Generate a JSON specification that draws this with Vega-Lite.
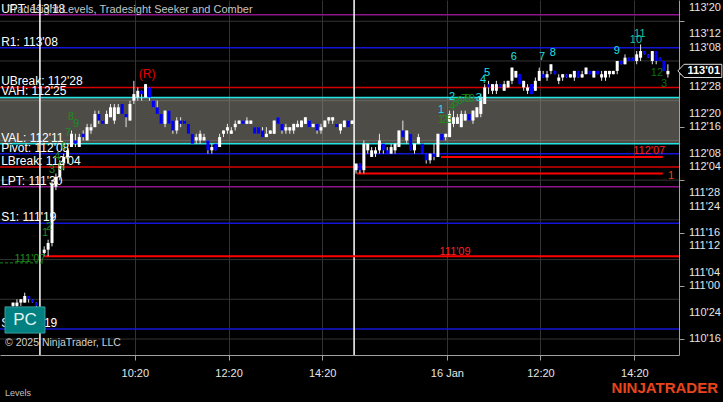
{
  "$schema": "https://vega.github.io/schema/vega-lite/v6.json",
  "autosize": {"type": "none"},
  "width": 679,
  "height": 355,
  "padding": {"left": 0, "top": 0, "right": 44, "bottom": 47},
  "background": "#000000",
  "config": {"view": {"stroke": null}, "font": "Liberation Sans", "scale": {"continuousPadding": 0}, "axis": {"labelOverlap": false}},
  "resolve": {"scale": {"color": "independent"}},
  "datasets": {
    "hgrid": [{"v": 3536}, {"v": 3548}, {"v": 3560}, {"v": 3572}, {"v": 3584}, {"v": 3596}, {"v": 3608}, {"v": 3620}, {"v": 3632}],
    "ylabels": [
      {"v": 3536, "t": "110'16"}, {"v": 3544, "t": "110'24"}, {"v": 3552, "t": "111'00"}, {"v": 3556, "t": "111'04"},
      {"v": 3564, "t": "111'12"}, {"v": 3568, "t": "111'16"}, {"v": 3576, "t": "111'24"}, {"v": 3580, "t": "111'28"},
      {"v": 3588, "t": "112'04"}, {"v": 3592, "t": "112'08"}, {"v": 3600, "t": "112'16"}, {"v": 3604, "t": "112'20"},
      {"v": 3612, "t": "112'28"}, {"v": 3624, "t": "113'08"}, {"v": 3628, "t": "113'12"}, {"v": 3636, "t": "113'20"}
    ],
    "band": [{"v": 3609, "v2": 3595}],
    "levels": [
      {"v": 3634, "kind": "pt", "label": "UPT: 113'18"},
      {"v": 3624, "kind": "rs", "label": "R1: 113'08"},
      {"v": 3612, "kind": "brk", "label": "UBreak: 112'28"},
      {"v": 3609, "kind": "va", "label": "VAH: 112'25"},
      {"v": 3595, "kind": "va", "label": "VAL: 112'11"},
      {"v": 3592, "kind": "rs", "label": "Pivot: 112'08"},
      {"v": 3588, "kind": "brk", "label": "LBreak: 112'04"},
      {"v": 3582, "kind": "pt", "label": "LPT: 111'30"},
      {"v": 3571, "kind": "rs", "label": "S1: 111'19"},
      {"v": 3539, "kind": "rs", "label": "S2: 110'19"}
    ],
    "sessions": [{"j": 9.9}, {"j": 90.5}],
    "segs": [
      {"j": 11, "j2": 173.85, "v": 3561},
      {"j": 112.8, "j2": 169.7, "v": 3591},
      {"j": 91.2, "j2": 169.7, "v": 3586}
    ],
    "gdash": [{"j": -0.34, "j2": 11, "v": 3559}],
    "seglabels": [
      {"j": 116.4, "v": 3562.2, "t": "111'09", "k": "r"},
      {"j": 166.2, "v": 3592.9, "t": "112'07", "k": "r"},
      {"j": 171.8, "v": 3585.2, "t": "1", "k": "o"},
      {"j": 7.35, "v": 3560.2, "t": "111'07", "k": "g"}
    ],
    "counts": [
      {"j": 11.2, "v": 3568.0, "t": "1", "k": "g"},
      {"j": 12.2, "v": 3569.8, "t": "2", "k": "g"},
      {"j": 13.0, "v": 3587.1, "t": "3", "k": "g"},
      {"j": 14.3, "v": 3591.0, "t": "4", "k": "g"},
      {"j": 15.3, "v": 3588.0, "t": "5", "k": "g"},
      {"j": 16.1, "v": 3594.0, "t": "6", "k": "g"},
      {"j": 17.1, "v": 3598.2, "t": "7", "k": "g"},
      {"j": 17.9, "v": 3603.1, "t": "8", "k": "g"},
      {"j": 19.2, "v": 3601.0, "t": "9", "k": "g"},
      {"j": 112.8, "v": 3602.2, "t": "1", "k": "g"},
      {"j": 113.8, "v": 3602.2, "t": "2", "k": "g"},
      {"j": 114.9, "v": 3602.2, "t": "3", "k": "g"},
      {"j": 115.6, "v": 3606.1, "t": "4", "k": "g"},
      {"j": 116.6, "v": 3607.3, "t": "5", "k": "g"},
      {"j": 117.7, "v": 3607.9, "t": "6", "k": "g"},
      {"j": 118.7, "v": 3608.5, "t": "7", "k": "g"},
      {"j": 119.7, "v": 3608.5, "t": "8", "k": "g"},
      {"j": 120.7, "v": 3608.5, "t": "9", "k": "g"},
      {"j": 168.2, "v": 3616.4, "t": "12", "k": "d"},
      {"j": 170.0, "v": 3613.0, "t": "3", "k": "d"},
      {"j": 112.8, "v": 3605.2, "t": "1", "k": "c"},
      {"j": 115.6, "v": 3609.1, "t": "2", "k": "c"},
      {"j": 122.5, "v": 3608.8, "t": "3", "k": "c"},
      {"j": 123.6, "v": 3614.3, "t": "4", "k": "c"},
      {"j": 124.6, "v": 3616.4, "t": "5", "k": "c"},
      {"j": 131.5, "v": 3621.2, "t": "6", "k": "c"},
      {"j": 138.7, "v": 3621.2, "t": "7", "k": "c"},
      {"j": 141.5, "v": 3622.4, "t": "8", "k": "c"},
      {"j": 157.9, "v": 3623.0, "t": "9", "k": "c"},
      {"j": 162.8, "v": 3626.3, "t": "10", "k": "t"},
      {"j": 163.8, "v": 3628.1, "t": "11", "k": "t"}
    ],
    "bars": [
      {"j": 3, "o": 3546, "h": 3547, "l": 3545, "c": 3547},
      {"j": 4, "o": 3546, "h": 3548, "l": 3545, "c": 3547},
      {"j": 5, "o": 3547, "h": 3548, "l": 3546, "c": 3548},
      {"j": 6, "o": 3547, "h": 3550, "l": 3547, "c": 3549},
      {"j": 7, "o": 3549, "h": 3549, "l": 3547, "c": 3548},
      {"j": 8, "o": 3548, "h": 3548, "l": 3547, "c": 3547},
      {"j": 9, "o": 3547, "h": 3547, "l": 3545, "c": 3546},
      {"j": 11, "o": 3562, "h": 3564, "l": 3561, "c": 3563},
      {"j": 12, "o": 3563, "h": 3566, "l": 3561, "c": 3565},
      {"j": 13, "o": 3565, "h": 3584, "l": 3564, "c": 3583},
      {"j": 14, "o": 3582, "h": 3586, "l": 3581, "c": 3585},
      {"j": 15, "o": 3585, "h": 3590, "l": 3584, "c": 3589},
      {"j": 16, "o": 3589, "h": 3592, "l": 3587, "c": 3591},
      {"j": 17, "o": 3591, "h": 3594, "l": 3589, "c": 3593},
      {"j": 18, "o": 3594, "h": 3599, "l": 3594, "c": 3598},
      {"j": 19, "o": 3596, "h": 3598, "l": 3594, "c": 3595},
      {"j": 20, "o": 3594, "h": 3598, "l": 3594, "c": 3597},
      {"j": 21, "o": 3598, "h": 3599, "l": 3596, "c": 3597},
      {"j": 22, "o": 3596, "h": 3601, "l": 3596, "c": 3600},
      {"j": 23, "o": 3599, "h": 3601, "l": 3598, "c": 3600},
      {"j": 24, "o": 3600, "h": 3605, "l": 3600, "c": 3604},
      {"j": 25, "o": 3604, "h": 3605, "l": 3601, "c": 3602},
      {"j": 26, "o": 3602, "h": 3602, "l": 3601, "c": 3601},
      {"j": 27, "o": 3601, "h": 3605, "l": 3601, "c": 3604},
      {"j": 28, "o": 3603, "h": 3607, "l": 3603, "c": 3606},
      {"j": 29, "o": 3602, "h": 3607, "l": 3601, "c": 3606},
      {"j": 30, "o": 3604, "h": 3607, "l": 3604, "c": 3606},
      {"j": 31, "o": 3607, "h": 3607, "l": 3604, "c": 3604},
      {"j": 32, "o": 3604, "h": 3604, "l": 3600, "c": 3603},
      {"j": 33, "o": 3602, "h": 3608, "l": 3602, "c": 3607},
      {"j": 34, "o": 3608, "h": 3614, "l": 3607, "c": 3610},
      {"j": 35, "o": 3609, "h": 3612, "l": 3608, "c": 3611},
      {"j": 36, "o": 3611, "h": 3611, "l": 3608, "c": 3610},
      {"j": 37, "o": 3609, "h": 3613, "l": 3609, "c": 3613},
      {"j": 38, "o": 3612, "h": 3612, "l": 3608, "c": 3609},
      {"j": 39, "o": 3608, "h": 3608, "l": 3606, "c": 3606},
      {"j": 40, "o": 3606, "h": 3608, "l": 3604, "c": 3604},
      {"j": 41, "o": 3604, "h": 3604, "l": 3601, "c": 3601},
      {"j": 42, "o": 3601, "h": 3605, "l": 3600, "c": 3605},
      {"j": 43, "o": 3605, "h": 3605, "l": 3601, "c": 3601},
      {"j": 44, "o": 3602, "h": 3602, "l": 3598, "c": 3599},
      {"j": 45, "o": 3599, "h": 3603, "l": 3598, "c": 3602},
      {"j": 46, "o": 3602, "h": 3603, "l": 3600, "c": 3601},
      {"j": 47, "o": 3602, "h": 3602, "l": 3601, "c": 3601},
      {"j": 48, "o": 3601, "h": 3601, "l": 3598, "c": 3598},
      {"j": 49, "o": 3598, "h": 3598, "l": 3595, "c": 3595},
      {"j": 50, "o": 3596, "h": 3598, "l": 3595, "c": 3597},
      {"j": 51, "o": 3596, "h": 3599, "l": 3595, "c": 3598},
      {"j": 52, "o": 3596, "h": 3598, "l": 3596, "c": 3597},
      {"j": 53, "o": 3596, "h": 3596, "l": 3592, "c": 3593},
      {"j": 54, "o": 3593, "h": 3595, "l": 3592, "c": 3594},
      {"j": 55, "o": 3595, "h": 3595, "l": 3593, "c": 3593},
      {"j": 56, "o": 3594, "h": 3598, "l": 3594, "c": 3597},
      {"j": 57, "o": 3598, "h": 3599, "l": 3597, "c": 3599},
      {"j": 58, "o": 3599, "h": 3601, "l": 3598, "c": 3600},
      {"j": 59, "o": 3598, "h": 3600, "l": 3598, "c": 3599},
      {"j": 60, "o": 3600, "h": 3602, "l": 3599, "c": 3601},
      {"j": 61, "o": 3601, "h": 3602, "l": 3601, "c": 3602},
      {"j": 62, "o": 3602, "h": 3602, "l": 3601, "c": 3601},
      {"j": 63, "o": 3601, "h": 3603, "l": 3601, "c": 3602},
      {"j": 64, "o": 3601, "h": 3602, "l": 3601, "c": 3602},
      {"j": 65, "o": 3600, "h": 3600, "l": 3598, "c": 3598},
      {"j": 66, "o": 3600, "h": 3600, "l": 3598, "c": 3598},
      {"j": 67, "o": 3599, "h": 3600, "l": 3597, "c": 3597},
      {"j": 68, "o": 3597, "h": 3600, "l": 3597, "c": 3598},
      {"j": 69, "o": 3598, "h": 3599, "l": 3598, "c": 3599},
      {"j": 70, "o": 3598, "h": 3602, "l": 3598, "c": 3602},
      {"j": 71, "o": 3603, "h": 3603, "l": 3601, "c": 3601},
      {"j": 72, "o": 3601, "h": 3601, "l": 3598, "c": 3599},
      {"j": 73, "o": 3599, "h": 3601, "l": 3598, "c": 3600},
      {"j": 74, "o": 3599, "h": 3600, "l": 3598, "c": 3600},
      {"j": 75, "o": 3599, "h": 3601, "l": 3598, "c": 3601},
      {"j": 76, "o": 3600, "h": 3602, "l": 3600, "c": 3601},
      {"j": 77, "o": 3600, "h": 3602, "l": 3600, "c": 3602},
      {"j": 78, "o": 3601, "h": 3603, "l": 3601, "c": 3603},
      {"j": 79, "o": 3602, "h": 3602, "l": 3600, "c": 3600},
      {"j": 80, "o": 3600, "h": 3601, "l": 3600, "c": 3601},
      {"j": 81, "o": 3601, "h": 3601, "l": 3598, "c": 3599},
      {"j": 82, "o": 3599, "h": 3601, "l": 3598, "c": 3600},
      {"j": 83, "o": 3600, "h": 3602, "l": 3600, "c": 3602},
      {"j": 84, "o": 3602, "h": 3603, "l": 3601, "c": 3603},
      {"j": 85, "o": 3602, "h": 3603, "l": 3601, "c": 3603},
      {"j": 86, "o": 3601, "h": 3601, "l": 3600, "c": 3600},
      {"j": 87, "o": 3599, "h": 3601, "l": 3598, "c": 3601},
      {"j": 88, "o": 3600, "h": 3602, "l": 3600, "c": 3602},
      {"j": 89, "o": 3602, "h": 3602, "l": 3600, "c": 3600},
      {"j": 90, "o": 3601, "h": 3602, "l": 3601, "c": 3602},
      {"j": 91, "o": 3587, "h": 3589, "l": 3586, "c": 3589},
      {"j": 92, "o": 3589, "h": 3589, "l": 3586, "c": 3587},
      {"j": 93, "o": 3587, "h": 3596, "l": 3586, "c": 3595},
      {"j": 94, "o": 3593, "h": 3595, "l": 3592, "c": 3595},
      {"j": 95, "o": 3591, "h": 3594, "l": 3591, "c": 3593},
      {"j": 96, "o": 3592, "h": 3594, "l": 3591, "c": 3593},
      {"j": 97, "o": 3593, "h": 3598, "l": 3592, "c": 3596},
      {"j": 98, "o": 3595, "h": 3595, "l": 3592, "c": 3593},
      {"j": 99, "o": 3593, "h": 3594, "l": 3592, "c": 3592},
      {"j": 100, "o": 3592, "h": 3595, "l": 3592, "c": 3594},
      {"j": 101, "o": 3593, "h": 3595, "l": 3592, "c": 3595},
      {"j": 102, "o": 3594, "h": 3599, "l": 3594, "c": 3599},
      {"j": 103, "o": 3599, "h": 3602, "l": 3597, "c": 3597},
      {"j": 104, "o": 3596, "h": 3599, "l": 3595, "c": 3599},
      {"j": 105, "o": 3598, "h": 3598, "l": 3593, "c": 3593},
      {"j": 106, "o": 3593, "h": 3595, "l": 3592, "c": 3595},
      {"j": 107, "o": 3595, "h": 3598, "l": 3595, "c": 3597},
      {"j": 108, "o": 3595, "h": 3595, "l": 3592, "c": 3592},
      {"j": 109, "o": 3592, "h": 3592, "l": 3589, "c": 3590},
      {"j": 110, "o": 3590, "h": 3592, "l": 3589, "c": 3592},
      {"j": 111, "o": 3592, "h": 3595, "l": 3590, "c": 3591},
      {"j": 112, "o": 3591, "h": 3598, "l": 3591, "c": 3598},
      {"j": 113, "o": 3598, "h": 3598, "l": 3596, "c": 3596},
      {"j": 114, "o": 3597, "h": 3598, "l": 3596, "c": 3598},
      {"j": 115, "o": 3597, "h": 3605, "l": 3597, "c": 3604},
      {"j": 116, "o": 3601, "h": 3605, "l": 3600, "c": 3603},
      {"j": 117, "o": 3601, "h": 3604, "l": 3601, "c": 3603},
      {"j": 118, "o": 3600, "h": 3605, "l": 3600, "c": 3604},
      {"j": 119, "o": 3602, "h": 3605, "l": 3602, "c": 3604},
      {"j": 120, "o": 3604, "h": 3604, "l": 3602, "c": 3602},
      {"j": 121, "o": 3602, "h": 3605, "l": 3601, "c": 3605},
      {"j": 122, "o": 3603, "h": 3606, "l": 3603, "c": 3606},
      {"j": 123, "o": 3604, "h": 3610, "l": 3603, "c": 3609},
      {"j": 124, "o": 3607, "h": 3613, "l": 3607, "c": 3612},
      {"j": 125, "o": 3613, "h": 3614, "l": 3610, "c": 3612},
      {"j": 126, "o": 3611, "h": 3613, "l": 3610, "c": 3613},
      {"j": 127, "o": 3611, "h": 3614, "l": 3610, "c": 3613},
      {"j": 128, "o": 3613, "h": 3613, "l": 3612, "c": 3612},
      {"j": 129, "o": 3611, "h": 3614, "l": 3611, "c": 3613},
      {"j": 130, "o": 3612, "h": 3614, "l": 3612, "c": 3614},
      {"j": 131, "o": 3614, "h": 3618, "l": 3613, "c": 3618},
      {"j": 132, "o": 3615, "h": 3617, "l": 3615, "c": 3617},
      {"j": 133, "o": 3616, "h": 3616, "l": 3613, "c": 3613},
      {"j": 134, "o": 3612, "h": 3614, "l": 3611, "c": 3614},
      {"j": 135, "o": 3611, "h": 3613, "l": 3610, "c": 3612},
      {"j": 136, "o": 3613, "h": 3613, "l": 3610, "c": 3610},
      {"j": 137, "o": 3611, "h": 3615, "l": 3611, "c": 3614},
      {"j": 138, "o": 3614, "h": 3618, "l": 3614, "c": 3617},
      {"j": 139, "o": 3616, "h": 3617, "l": 3615, "c": 3615},
      {"j": 140, "o": 3615, "h": 3617, "l": 3614, "c": 3616},
      {"j": 141, "o": 3617, "h": 3619, "l": 3616, "c": 3619},
      {"j": 142, "o": 3617, "h": 3617, "l": 3616, "c": 3616},
      {"j": 143, "o": 3614, "h": 3616, "l": 3613, "c": 3615},
      {"j": 144, "o": 3615, "h": 3616, "l": 3614, "c": 3616},
      {"j": 145, "o": 3616, "h": 3616, "l": 3615, "c": 3615},
      {"j": 146, "o": 3615, "h": 3616, "l": 3615, "c": 3616},
      {"j": 147, "o": 3615, "h": 3617, "l": 3614, "c": 3617},
      {"j": 148, "o": 3617, "h": 3617, "l": 3615, "c": 3615},
      {"j": 149, "o": 3615, "h": 3617, "l": 3615, "c": 3616},
      {"j": 150, "o": 3616, "h": 3618, "l": 3616, "c": 3618},
      {"j": 151, "o": 3617, "h": 3617, "l": 3616, "c": 3616},
      {"j": 152, "o": 3615, "h": 3617, "l": 3615, "c": 3617},
      {"j": 153, "o": 3617, "h": 3617, "l": 3616, "c": 3616},
      {"j": 154, "o": 3615, "h": 3617, "l": 3614, "c": 3616},
      {"j": 155, "o": 3615, "h": 3617, "l": 3614, "c": 3617},
      {"j": 156, "o": 3616, "h": 3617, "l": 3615, "c": 3617},
      {"j": 157, "o": 3616, "h": 3617, "l": 3616, "c": 3617},
      {"j": 158, "o": 3617, "h": 3620, "l": 3616, "c": 3620},
      {"j": 159, "o": 3620, "h": 3620, "l": 3619, "c": 3619},
      {"j": 160, "o": 3619, "h": 3622, "l": 3619, "c": 3621},
      {"j": 161, "o": 3621, "h": 3621, "l": 3620, "c": 3620},
      {"j": 162, "o": 3621, "h": 3621, "l": 3620, "c": 3620},
      {"j": 163, "o": 3620, "h": 3623, "l": 3619, "c": 3622},
      {"j": 164, "o": 3621, "h": 3625, "l": 3620, "c": 3623},
      {"j": 165, "o": 3623, "h": 3623, "l": 3622, "c": 3622},
      {"j": 166, "o": 3622, "h": 3622, "l": 3621, "c": 3621},
      {"j": 167, "o": 3620, "h": 3623, "l": 3619, "c": 3623},
      {"j": 168, "o": 3623, "h": 3623, "l": 3619, "c": 3620},
      {"j": 169, "o": 3621, "h": 3621, "l": 3620, "c": 3620},
      {"j": 170, "o": 3620, "h": 3620, "l": 3617, "c": 3617},
      {"j": 171, "o": 3616, "h": 3619, "l": 3615, "c": 3617}
    ]
  },
  "layer": [
    {
      "data": {"name": "hgrid"},
      "mark": {"type": "rule", "color": "#333333", "strokeWidth": 1},
      "encoding": {"y": {"field": "v", "type": "quantitative", "title": null}}
    },
    {
      "data": {"name": "band"},
      "mark": {"type": "rect", "color": "#9a978c", "opacity": 0.5},
      "encoding": {
        "y": {"field": "v", "type": "quantitative", "title": null},
        "y2": {"field": "v2"}
      }
    },
    {
      "data": {"name": "levels"},
      "mark": {"type": "rule", "strokeWidth": 1.5},
      "encoding": {
        "y": {"field": "v", "type": "quantitative", "title": null},
        "color": {"field": "kind", "type": "nominal", "legend": null,
          "scale": {"domain": ["pt", "rs", "brk", "va"], "range": ["#8a168a", "#1414d8", "#d40000", "#22e6e6"]}}
      }
    },
    {
      "data": {"name": "sessions"},
      "mark": {"type": "rule", "color": "#ffffff", "strokeWidth": 1.5},
      "encoding": {"x": {"field": "j", "type": "quantitative", "title": null}}
    },
    {
      "data": {"name": "segs"},
      "mark": {"type": "rule", "color": "#ff0000", "strokeWidth": 2},
      "encoding": {
        "x": {"field": "j", "type": "quantitative", "title": null},
        "x2": {"field": "j2"},
        "y": {"field": "v", "type": "quantitative", "title": null}
      }
    },
    {
      "data": {"name": "gdash"},
      "mark": {"type": "rule", "color": "#1a8a1a", "strokeWidth": 1, "strokeDash": [3, 2]},
      "encoding": {
        "x": {"field": "j", "type": "quantitative", "title": null},
        "x2": {"field": "j2"},
        "y": {"field": "v", "type": "quantitative", "title": null}
      }
    },
    {
      "data": {"name": "bars"},
      "mark": {"type": "rule", "color": "#e8e8e8", "strokeWidth": 1},
      "encoding": {
        "x": {"field": "j", "type": "quantitative", "title": null,
          "scale": {"domain": [-0.344, 173.85], "nice": false, "zero": false, "padding": 0},
          "axis": {"orient": "bottom", "title": null, "values": [34.25, 58.3, 82.3, 114.3, 138.3, 162.4],
            "labelExpr": "datum.value < 40 ? '10:20' : datum.value < 70 ? '12:20' : datum.value < 100 ? '14:20' : datum.value < 120 ? '16 Jan' : datum.value < 150 ? '12:20' : '14:20'",
            "grid": true, "gridColor": "#333333", "domain": true, "domainColor": "#a0a0a0", "tickColor": "#a0a0a0", "tickSize": 5,
            "labelColor": "#e6e6e6", "labelFontSize": 11, "labelFont": "Liberation Sans", "labelPadding": 7, "labelFlush": false, "labelOverlap": false}},
        "y": {"field": "l", "type": "quantitative", "title": null,
          "scale": {"domain": [3531.17, 3638.42], "nice": false, "zero": false, "padding": 0},
          "axis": {"orient": "right", "title": null,
            "values": [3536, 3540, 3544, 3548, 3552, 3556, 3560, 3564, 3568, 3572, 3576, 3580, 3584, 3588, 3592, 3596, 3600, 3604, 3608, 3612, 3616, 3620, 3624, 3628, 3632, 3636],
            "labels": false,
            "grid": false, "domain": true, "domainColor": "#a0a0a0", "tickColor": "#a0a0a0", "tickSize": 5}},
        "y2": {"field": "h"}
      }
    },
    {
      "data": {"name": "bars"},
      "mark": {"type": "bar", "size": 3},
      "encoding": {
        "x": {"field": "j", "type": "quantitative", "title": null},
        "y": {"field": "o", "type": "quantitative", "title": null},
        "y2": {"field": "c"},
        "color": {"condition": {"test": "datum.c >= datum.o", "value": "#ffffff"}, "value": "#0000ff"}
      }
    },
    {
      "data": {"name": "ylabels"},
      "mark": {"type": "text", "align": "left", "baseline": "middle", "fontSize": 11, "color": "#e6e6e6"},
      "encoding": {
        "x": {"datum": 176.42, "type": "quantitative", "title": null},
        "y": {"field": "v", "type": "quantitative", "title": null},
        "text": {"field": "t"}
      }
    },
    {
      "data": {"name": "levels"},
      "mark": {"type": "text", "align": "left", "baseline": "alphabetic", "dx": 1, "dy": -2, "fontSize": 12, "color": "#ffffff"},
      "encoding": {
        "x": {"datum": -0.3, "type": "quantitative", "title": null},
        "y": {"field": "v", "type": "quantitative", "title": null},
        "text": {"field": "label"}
      }
    },
    {
      "data": {"name": "counts"},
      "mark": {"type": "text", "align": "center", "baseline": "middle", "fontSize": 11},
      "encoding": {
        "x": {"field": "j", "type": "quantitative", "title": null},
        "y": {"field": "v", "type": "quantitative", "title": null},
        "text": {"field": "t"},
        "color": {"field": "k", "type": "nominal", "legend": null,
          "scale": {"domain": ["g", "d", "c", "t"], "range": ["#1c8c1c", "#0b700b", "#20e0ea", "#17c49c"]}}
      }
    },
    {
      "data": {"name": "seglabels"},
      "mark": {"type": "text", "align": "center", "baseline": "middle", "fontSize": 11},
      "encoding": {
        "x": {"field": "j", "type": "quantitative", "title": null},
        "y": {"field": "v", "type": "quantitative", "title": null},
        "text": {"field": "t"},
        "color": {"field": "k", "type": "nominal", "legend": null,
          "scale": {"domain": ["r", "o", "g"], "range": ["#ff2020", "#ff3a10", "#1c8c1c"]}}
      }
    },
    {
      "data": {"values": [{"t": "(R)"}]},
      "mark": {"type": "text", "align": "center", "baseline": "middle", "fontSize": 12, "color": "#e00000"},
      "encoding": {
        "x": {"datum": 37.4, "type": "quantitative", "title": null},
        "y": {"datum": 3616.1, "type": "quantitative", "title": null},
        "text": {"field": "t"}
      }
    },
    {
      "data": {"values": [{"t": "PC"}]},
      "mark": {"type": "rect", "fill": "#008080", "stroke": "#3c9c9c", "strokeWidth": 1},
      "encoding": {
        "x": {"datum": 0.94, "type": "quantitative", "title": null},
        "x2": {"datum": 11.2},
        "y": {"datum": 3545.7, "type": "quantitative", "title": null},
        "y2": {"datum": 3537.8}
      }
    },
    {
      "data": {"values": [{"t": "PC"}]},
      "mark": {"type": "text", "align": "center", "baseline": "middle", "fontSize": 17, "color": "#e0f4f4"},
      "encoding": {
        "x": {"datum": 6.07, "type": "quantitative", "title": null},
        "y": {"datum": 3541.75, "type": "quantitative", "title": null},
        "text": {"field": "t"}
      }
    },
    {
      "data": {"values": [{"t": "Tradesight Levels, Tradesight Seeker and Comber"}]},
      "mark": {"type": "text", "align": "left", "baseline": "middle", "fontSize": 11, "color": "#c4c4c4"},
      "encoding": {
        "x": {"datum": 1.5, "type": "quantitative", "title": null},
        "y": {"datum": 3635.4, "type": "quantitative", "title": null},
        "text": {"field": "t"}
      }
    },
    {
      "data": {"values": [{"t": "© 2025 NinjaTrader, LLC"}]},
      "mark": {"type": "text", "align": "left", "baseline": "middle", "fontSize": 10.5, "color": "#d0d0d0"},
      "encoding": {
        "x": {"datum": 0.94, "type": "quantitative", "title": null},
        "y": {"datum": 3534.8, "type": "quantitative", "title": null},
        "text": {"field": "t"}
      }
    },
    {
      "data": {"values": [{"t": "Levels"}]},
      "mark": {"type": "text", "align": "left", "baseline": "middle", "fontSize": 9, "color": "#c0c0c0"},
      "encoding": {
        "x": {"datum": 0.94, "type": "quantitative", "title": null},
        "y": {"datum": 3519.7, "type": "quantitative", "title": null},
        "text": {"field": "t"}
      }
    },
    {
      "data": {"values": [{"t": "NINJATRADER"}]},
      "mark": {"type": "text", "align": "right", "baseline": "middle", "fontSize": 15, "fontWeight": "bold", "color": "#e8451d"},
      "encoding": {
        "x": {"datum": 183.86, "type": "quantitative", "title": null},
        "y": {"datum": 3521.2, "type": "quantitative", "title": null},
        "text": {"field": "t"}
      }
    },
    {
      "data": {"values": [{"t": "113'01"}]},
      "mark": {"type": "point", "shape": "M -1 0 L -0.72 -0.3 L 1 -0.3 L 1 0.3 L -0.72 0.3 Z", "size": 1936, "filled": true, "fill": "#000000", "stroke": "#dcdcdc", "strokeWidth": 1, "opacity": 1},
      "encoding": {
        "x": {"datum": 179.2, "type": "quantitative", "title": null},
        "y": {"datum": 3617, "type": "quantitative", "title": null}
      }
    },
    {
      "data": {"values": [{"t": "113'01"}]},
      "mark": {"type": "text", "align": "center", "baseline": "middle", "fontSize": 11, "fontWeight": "bold", "color": "#ffffff"},
      "encoding": {
        "x": {"datum": 180.2, "type": "quantitative", "title": null},
        "y": {"datum": 3617, "type": "quantitative", "title": null},
        "text": {"field": "t"}
      }
    }
  ]
}
